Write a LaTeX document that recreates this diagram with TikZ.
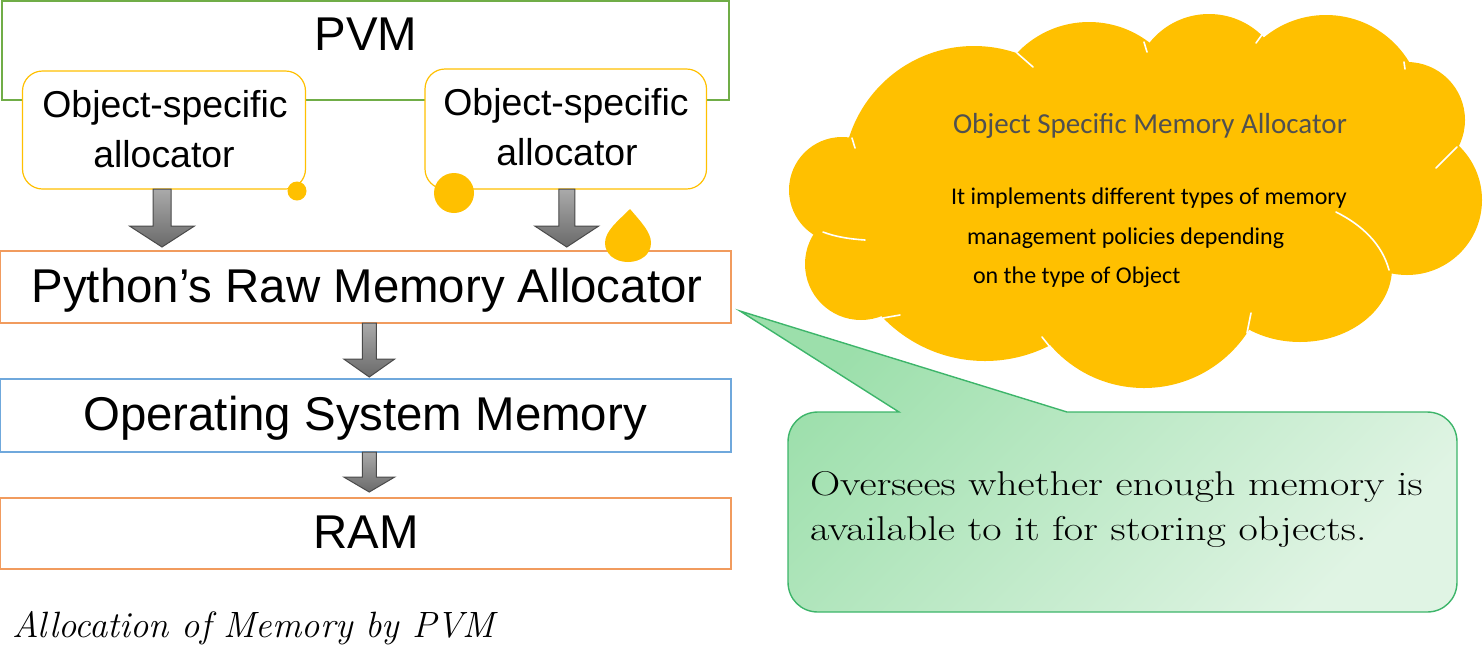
\documentclass[tikz,border=0pt]{standalone}
\usepackage{fontspec}
\usepackage{graphicx}
\usetikzlibrary{calc}
\newfontfamily\sansf{Liberation Sans}
\newfontfamily\calib{Carlito}
\definecolor{pvmgreen}{HTML}{70AD47}
\definecolor{gold}{HTML}{FFC000}
\definecolor{orangeb}{HTML}{F19B5E}
\definecolor{blueb}{HTML}{6FA8DC}
\definecolor{calloutline}{HTML}{3DB56A}
\definecolor{calltl}{HTML}{9CDFAB}
\definecolor{callbr}{HTML}{E0F4E4}
\definecolor{arrtop}{HTML}{AAAAAA}
\definecolor{arrbot}{HTML}{6A6A6A}
\definecolor{arredge}{HTML}{4A4A4A}
\definecolor{titlegray}{HTML}{505050}
% block arrow: #1 from anchor, #2 to anchor, #3 x offset (px), #4 gap (px), #5 head length (px), #6 shaft half (pt), #7 head half (pt)
\newcommand\blockarr[7]{%
  \shade[barrow] let \p1=($#1+(#3,0)$), \p2=#2,
    \p3=($(\x1,\y2)+(0,-#4)$), \p4=($(\p3)+(0,-#5)$) in
    (\x1-#6,\y1) -- (\x1-#6,\y4) -- (\x1-#7,\y4) -- (\x1,\y3) --
    (\x1+#7,\y4) -- (\x1+#6,\y4) -- (\x1+#6,\y1) -- cycle;}
\begin{document}
\begin{tikzpicture}[x=0.5pt,y=-0.5pt,
  box/.style={draw, line width=0.6pt, inner sep=0pt, outer sep=0pt, rectangle},
  lbl/.style={anchor=base, inner sep=0pt, outer sep=0pt},
  lblw/.style={anchor=base west, inner sep=0pt, outer sep=0pt},
  bigsans/.style={font=\sansf\fontsize{23.7}{28}\selectfont},
  smallsans/.style={font=\sansf\fontsize{18.7}{22}\selectfont},
  cloudtxt/.style={font=\calib\fontsize{12}{14}\selectfont},
  calltxt/.style={font=\fontsize{17.2}{20}\selectfont},
  barrow/.style={top color=arrtop, bottom color=arrbot, draw=arredge, line width=0.5pt},
  whitearc/.style={draw=white, line width=0.8pt, line cap=round}]
\useasboundingbox (0,0) rectangle (1484,660);

% ---------- left stack ----------
\node[box, draw=pvmgreen, minimum width=363.5pt, minimum height=49.5pt] (pvm) at (365.5,50.5) {};
\node[lbl, bigsans] (pvmtxt) at (366,50) {PVM};

\node[box, draw=gold, fill=white, rounded corners=10pt, minimum width=141.5pt, minimum height=59pt] (alloc1) at (164,130) {};
\node[lbl, smallsans] (alloc1a) at (165,117) {Object-specific};
\node[lbl, smallsans] (alloc1b) at (164,167) {allocator};

\node[box, draw=gold, fill=white, rounded corners=10pt, minimum width=140.75pt, minimum height=60pt] (alloc2) at (565.75,129) {};
\node[lbl, smallsans] (alloc2a) at (566,115) {Object-specific};
\node[lbl, smallsans] (alloc2b) at (567,165) {allocator};

\node[box, draw=orangeb, minimum width=365.25pt, minimum height=36pt] (raw) at (365.75,287) {};
\node[lbl, bigsans] (rawtxt) at (367,302) {Python’s Raw Memory Allocator};

\node[box, draw=blueb, minimum width=365.25pt, minimum height=36.5pt] (os) at (365.75,415.5) {};
\node[lbl, bigsans] (ostxt) at (365,430) {Operating System Memory};

\node[box, draw=orangeb, minimum width=365.25pt, minimum height=35.5pt] (ram) at (365.75,533.5) {};
\node[lbl, bigsans] (ramtxt) at (366,548) {RAM};

% block arrows
\blockarr{(alloc1.south)}{(raw.north)}{-2}{4}{21}{4.5pt}{16.25pt}
\blockarr{(alloc2.south)}{(raw.north)}{1}{4}{21}{4pt}{16pt}
\blockarr{(raw.south)}{(os.north)}{3.5}{2}{18}{3.5pt}{12.75pt}
\blockarr{(os.south)}{(ram.north)}{3.5}{6}{15}{3.5pt}{12.75pt}

% decorative drops
\fill[gold] (297,191) circle[radius=9.5];
\fill[gold] (454,193) circle[radius=20];
\fill[gold] (630,209) .. controls (641,222) and (651,232) .. (651,243)
  .. controls (651,254) and (641,262) .. (628,262)
  .. controls (615,262) and (605,254) .. (605,243)
  .. controls (605,231) and (618,221) .. (630,209) -- cycle;

\node[lblw, font=\fontsize{18.3}{21}\selectfont\itshape] (caption) at (12,637) {Allocation of Memory by PVM};

% ---------- cloud ----------
\begin{scope}[gold]
\fill (974,177) circle[radius=131];
\fill (1089,121) circle[radius=99];
\fill (1209,90) circle[radius=76];
\fill (1326,112) circle[radius=97];
\fill (1407,120) circle[radius=58];
\fill (1407,200) circle[radius=75];
\fill (1300,268) circle[x radius=92, y radius=74];
\fill (1144,264) circle[radius=124];
\fill (985,219) circle[radius=142];
\fill (861,264) circle[radius=56];
\fill (842,190) circle[radius=53];
\fill (1140,200) circle[x radius=260, y radius=130];
\end{scope}
\draw[whitearc] (1017,53) -- (1033,67);
\draw[whitearc] (1144,42) -- (1147,52);
\draw[whitearc] (1256,43) -- (1264,32);
\draw[whitearc] (1404,62) -- (1405,69);
\draw[whitearc] (1457,147) -- (1436,168);
\draw[whitearc] (1336,212) .. controls (1362,225) and (1382,244) .. (1389,270);
\draw[whitearc] (1251,313) -- (1247,333);
\draw[whitearc] (1042,337) -- (1054,352);
\draw[whitearc] (883,318) -- (900,315);
\draw[whitearc] (823,232) .. controls (836,237) and (850,239) .. (865,240);
\draw[whitearc] (852,138) -- (855,148);

\node[lblw, font=\calib\fontsize{14.5}{17}\selectfont, text=titlegray] (ctitle) at (953,133) {Object Specific Memory Allocator};
\node[lblw, cloudtxt] (cline1) at (951,204) {It implements different types of memory};
\node[lblw, cloudtxt] (cline2) at (967,244) {management policies depending};
\node[lblw, cloudtxt] (cline3) at (973,283) {on the type of Object};

% ---------- callout ----------
\coordinate (tip) at (740,311);
\path[draw=calloutline, line width=0.7pt, top color=calltl, bottom color=callbr, shading angle=45]
  (899,412) -- (tip) -- (1067,412) -- (1427,412)
  .. controls (1444,412) and (1457,425) .. (1457,442) -- (1457,582)
  .. controls (1457,599) and (1444,612) .. (1427,612) -- (818,612)
  .. controls (801,612) and (788,599) .. (788,582) -- (788,442)
  .. controls (788,425) and (801,412) .. (818,412) -- cycle;
\node[lblw, calltxt] (cl1) at (810,495) {\scalebox{1.22}[1]{Oversees whether enough memory is}};
\node[lblw, calltxt] (cl2) at (810,540) {\scalebox{1.22}[1]{available to it for storing objects.}};
\end{tikzpicture}
\end{document}
